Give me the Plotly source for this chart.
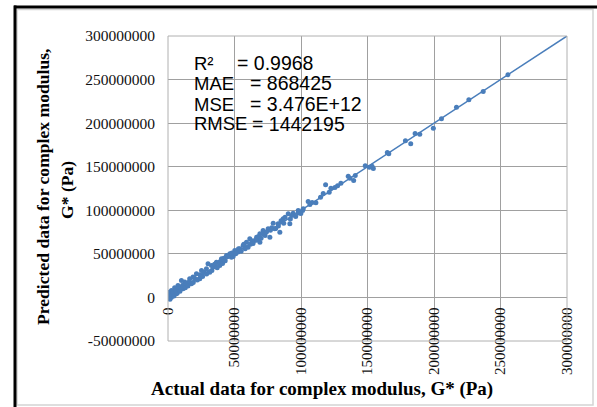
import plotly.graph_objects as go

# ---- data (Pa) ----
actual = [
    255.6e6, 237.0e6, 226.2e6, 216.9e6, 205.6e6, 199.5e6, 189.3e6, 185.8e6, 182.5e6, 178.5e6,
    166.0e6, 164.9e6, 154.4e6, 153.4e6, 151.4e6, 148.3e6, 140.8e6, 139.6e6, 135.5e6, 136.8e6,
    130.0e6, 127.5e6, 125.5e6, 122.5e6, 118.5e6, 121.2e6, 116.7e6, 114.7e6, 111.2e6, 108.4e6,
    105.4e6, 106.7e6, 101.2e6, 99.9e6,
    101.7e6, 97.9e6, 94.1e6, 90.4e6, 86.6e6, 82.8e6, 79.1e6, 80.3e6, 75.3e6, 71.5e6,
    69.1e6, 66.6e6, 65.3e6, 61.5e6, 59.0e6, 56.5e6, 54.0e6, 50.2e6, 46.5e6, 44.0e6,
    40.2e6, 36.4e6, 32.7e6, 30.1e6, 28.9e6, 25.2e6, 21.4e6, 18.8e6, 16.3e6, 12.6e6,
    10.1e6, 7.5e6, 5.0e6, 2.6e6, 0.0, 0.0,
    91.6e6, 84.1e6, 76.6e6, 69.1e6, 60.2e6, 52.7e6, 47.7e6, 38.9e6, 31.4e6, 23.9e6,
    17.6e6, 11.3e6, 6.3e6, 2.6e6,
    0.5e6, 1.0e6, 1.5e6, 3.0e6, 4.0e6, 4.5e6, 6.0e6, 7.0e6, 8.0e6, 9.0e6,
    10.0e6, 11.0e6, 13.0e6, 14.0e6, 15.0e6, 16.0e6, 19.0e6, 20.0e6, 22.0e6, 24.0e6,
    26.0e6, 27.0e6, 29.0e6, 33.0e6, 34.0e6, 35.0e6, 37.0e6, 39.0e6, 41.0e6, 42.0e6,
    43.0e6, 45.0e6, 48.0e6, 49.0e6, 51.0e6, 53.0e6, 55.0e6, 57.0e6, 58.0e6, 62.0e6,
    63.0e6, 64.0e6, 67.0e6, 68.0e6, 70.0e6, 72.0e6, 73.0e6, 74.0e6, 77.0e6, 78.0e6,
    81.0e6, 83.0e6, 85.0e6, 87.0e6, 88.0e6, 92.0e6, 93.0e6, 96.0e6, 98.0e6,
]
predicted = [
    255.5e6, 236.3e6, 226.8e6, 218.3e6, 205.0e6, 194.2e6, 187.3e6, 188.1e6, 176.3e6, 179.8e6,
    164.8e6, 166.3e6, 148.0e6, 150.6e6, 149.5e6, 151.1e6, 140.0e6, 134.2e6, 139.2e6, 136.9e6,
    131.1e6, 128.1e6, 126.2e6, 125.4e6, 129.3e6, 120.8e6, 119.3e6, 115.1e6, 108.6e6, 109.0e6,
    110.1e6, 106.7e6, 99.8e6, 96.4e6,
    101.7e6, 99.8e6, 96.7e6, 96.0e6, 90.3e6, 84.5e6, 85.2e6, 78.8e6, 78.8e6, 76.9e6,
    73.1e6, 69.2e6, 65.4e6, 67.3e6, 63.4e6, 59.7e6, 55.9e6, 53.9e6, 50.1e6, 48.2e6,
    44.4e6, 40.5e6, 36.7e6, 38.7e6, 32.9e6, 31.0e6, 27.2e6, 23.3e6, 21.5e6, 17.6e6,
    19.5e6, 13.8e6, 11.1e6, 8.0e6, 4.2e6, -1.5e6,
    84.5e6, 74.9e6, 69.2e6, 63.4e6, 57.7e6, 52.0e6, 46.2e6, 36.7e6, 29.0e6, 21.5e6,
    15.7e6, 10.0e6, 4.2e6, 0.3e6,
    2.0e6, 6.0e6, -2.0e6, 3.0e6, 6.0e6, 1.5e6, 8.0e6, 5.0e6, 10.0e6, 7.0e6,
    12.0e6, 14.0e6, 11.0e6, 16.0e6, 13.0e6, 18.0e6, 17.0e6, 22.0e6, 20.0e6, 26.0e6,
    24.0e6, 29.0e6, 27.0e6, 31.0e6, 35.0e6, 38.0e6, 34.0e6, 41.0e6, 39.0e6, 45.0e6,
    42.0e6, 47.0e6, 51.0e6, 47.0e6, 50.0e6, 56.0e6, 53.0e6, 61.0e6, 56.0e6, 61.0e6,
    65.0e6, 62.0e6, 66.0e6, 70.0e6, 68.0e6, 73.0e6, 71.0e6, 75.0e6, 77.0e6, 80.0e6,
    79.0e6, 82.0e6, 88.0e6, 85.0e6, 92.0e6, 90.0e6, 94.0e6, 93.0e6, 97.0e6,
]
ideal_line = [0, 300000000]

x_tick_vals = [0, 50000000, 100000000, 150000000, 200000000, 250000000, 300000000]
x_tick_text = ["0", "50000000", "100000000", "150000000", "200000000", "250000000", "300000000"]
y_tick_vals = [-50000000, 0, 50000000, 100000000, 150000000, 200000000, 250000000, 300000000]
y_tick_text = ["-50000000", "0", "50000000", "100000000", "150000000", "200000000", "250000000", "300000000"]

stat_labels = ["R²", "MAE", "MSE", "RMSE"]
stat_values = ["= 0.9968", "= 868425", "= 3.476E+12", "= 1442195"]

x_title = "Actual data for complex modulus, G* (Pa)"
y_title_lines = ["Predicted data for complex modulus,", "G* (Pa)"]

# ---- figure ----
W, H = 597, 407
L, R, T, B = 168, 567, 36, 341  # plot area in pixels


def px(x):
    return (x - L) / (R - L)


def py(y):
    return (B - y) / (B - T)


blue = "#4a7ebb"
grid = "#a0a0a0"
serif = "Liberation Serif, Times New Roman, serif"
sans = "Liberation Sans, Arial, sans-serif"

fig = go.Figure()
fig.add_trace(go.Scatter(x=ideal_line, y=ideal_line, mode="lines",
                         line=dict(color=blue, width=1.5), showlegend=False, hoverinfo="skip"))
fig.add_trace(go.Scatter(x=actual, y=predicted, mode="markers",
                         marker=dict(color=blue, size=5), showlegend=False))

fig.update_layout(
    width=W, height=H, autosize=False,
    margin=dict(l=L, r=W - R, t=T, b=H - B, pad=0),
    paper_bgcolor="white", plot_bgcolor="white",
    xaxis=dict(range=[0, 300000000], tickvals=x_tick_vals, ticktext=x_tick_text,
               tickangle=-90, tickfont=dict(family=serif, size=15, color="#111"),
               showgrid=True, gridcolor=grid, gridwidth=1, zeroline=False, showline=False,
               anchor="free", position=50 / 350, ticks="", ticklabelstandoff=6,
               automargin=False),
    yaxis=dict(range=[-50000000, 300000000], tickvals=y_tick_vals, ticktext=y_tick_text,
               tickfont=dict(family=serif, size=15.5, color="#111"),
               showgrid=True, gridcolor=grid, gridwidth=1, zeroline=False, showline=False,
               ticks="", ticklabelstandoff=12, automargin=False),
)

shapes = [
    dict(type="rect", xref="paper", yref="paper", x0=0, x1=1, y0=0, y1=1,
         line=dict(color="#b0b0b0", width=1)),
    dict(type="rect", xref="paper", yref="paper", x0=px(17), x1=px(593), y0=py(405), y1=py(9.5),
         line=dict(color="#d4d4d4", width=1.5)),
    dict(type="line", xref="paper", yref="paper", x0=px(14), x1=px(597), y0=py(7), y1=py(7),
         line=dict(color="black", width=3)),
    dict(type="line", xref="paper", yref="paper", x0=px(15), x1=px(15), y0=py(5.5), y1=py(407),
         line=dict(color="black", width=3)),
]
fig.update_layout(shapes=shapes)

ann = []
label_y = [63, 83, 104, 124]
value_x = [235, 248, 248, 250]
for lab, val, yy, vx in zip(stat_labels, stat_values, label_y, value_x):
    ann.append(dict(text=lab, x=px(192), y=py(yy), xref="paper", yref="paper",
                    xanchor="left", yanchor="middle", showarrow=False,
                    font=dict(family=sans, size=18.5, color="black")))
    ann.append(dict(text=val, x=px(vx), y=py(yy), xref="paper", yref="paper",
                    xanchor="left", yanchor="middle", showarrow=False,
                    font=dict(family=sans, size=19.5, color="black")))

ann.append(dict(text="<b>" + x_title + "</b>", x=px(322), y=py(389), xref="paper", yref="paper",
                xanchor="center", yanchor="middle", showarrow=False,
                font=dict(family=serif, size=19, color="black")))
ann.append(dict(text="<b>" + y_title_lines[0] + "</b>", x=px(43), y=py(187), xref="paper", yref="paper",
                xanchor="center", yanchor="middle", showarrow=False, textangle=-90,
                font=dict(family=serif, size=17.6, color="black")))
ann.append(dict(text="<b>" + y_title_lines[1] + "</b>", x=px(67), y=py(190), xref="paper", yref="paper",
                xanchor="center", yanchor="middle", showarrow=False, textangle=-90,
                font=dict(family=serif, size=17.6, color="black")))
fig.update_layout(annotations=ann)

fig.write_html("out.html", config={"displayModeBar": False},
               post_script="document.body.style.margin='0';")
